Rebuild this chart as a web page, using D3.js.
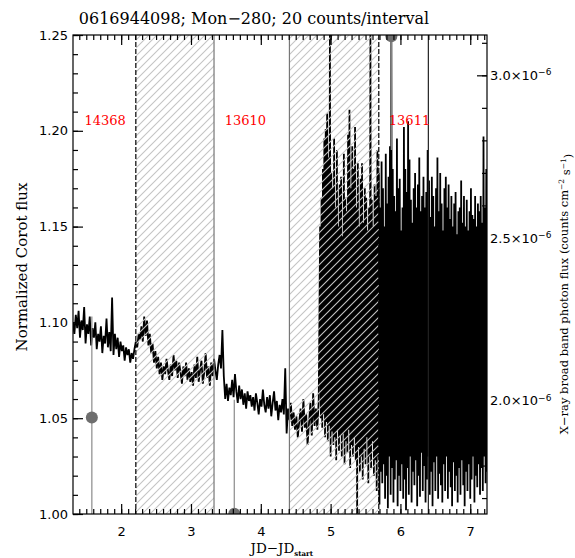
<!DOCTYPE html>
<html>
<head>
<meta charset="utf-8">
<script src="https://cdn.jsdelivr.net/npm/d3@7"></script>
<style>
  body { margin: 0; background: #fff; }
  svg text { font-family: "DejaVu Sans", sans-serif; }
</style>
</head>
<body>
<div id="chart"></div>
<script>
// Corot light curve with X-ray points, 0616944098 Mon-280

// Corot flux, cadence 0.02 d starting at 1.31 (quiet part)
const quietStart = 1.31;
const quietStep = 0.02;
const quietFlux = [
  1.100, 1.094, 1.104, 1.097, 1.106, 1.092, 1.101, 1.096, 1.108, 1.089,
  1.099, 1.094, 1.103, 1.088, 1.097, 1.092, 1.100, 1.086, 1.094, 1.090,
  1.098, 1.084, 1.093, 1.089, 1.102, 1.087, 1.095, 1.085, 1.113, 1.083,
  1.094, 1.086, 1.092, 1.082, 1.090, 1.085, 1.088, 1.080, 1.087, 1.083,
  1.086, 1.079, 1.084, 1.081, 1.086, 1.090, 1.087, 1.094, 1.091, 1.098,
  1.090, 1.103, 1.093, 1.101, 1.088, 1.094, 1.084, 1.089, 1.079, 1.085,
  1.076, 1.082, 1.073, 1.079, 1.070, 1.077, 1.073, 1.081, 1.075, 1.070,
  1.078, 1.072, 1.083, 1.075, 1.080, 1.071, 1.079, 1.074, 1.068, 1.077,
  1.072, 1.079, 1.070, 1.076, 1.069, 1.074, 1.067, 1.078, 1.071, 1.082,
  1.069, 1.075, 1.080, 1.068, 1.074, 1.084, 1.071, 1.077, 1.067, 1.079,
  1.072, 1.081, 1.075, 1.070, 1.078, 1.083, 1.076, 1.096, 1.072, 1.060,
  1.068, 1.059, 1.066, 1.062, 1.070, 1.061, 1.073, 1.064, 1.058, 1.067,
  1.060, 1.065, 1.057, 1.063, 1.055, 1.064, 1.059, 1.062, 1.056, 1.061,
  1.054, 1.063, 1.058, 1.052, 1.060, 1.056, 1.065, 1.057, 1.053, 1.061,
  1.055, 1.062, 1.051, 1.058, 1.064, 1.054, 1.059, 1.049, 1.057, 1.053,
  1.060, 1.052, 1.076, 1.042, 1.055, 1.049, 1.058, 1.046, 1.053, 1.044,
  1.051, 1.040, 1.048, 1.055, 1.043, 1.060, 1.045, 1.052, 1.036, 1.047,
  1.058, 1.041, 1.063, 1.046, 1.055, 1.044, 1.060
];

// noisy part, cadence 0.01 d starting at 4.85
const activeStart = 4.85;
const activeStep = 0.01;
const activeFlux = [
  1.150, 1.050, 1.165, 1.045, 1.180, 1.052, 1.196, 1.040, 1.201, 1.048,
  1.209, 1.038, 1.186, 1.046, 1.250, 1.030, 1.178, 1.043, 1.170, 1.036,
  1.196, 1.040, 1.160, 1.028, 1.190, 1.044, 1.150, 1.033, 1.172, 1.041,
  1.176, 1.030, 1.145, 1.042, 1.188, 1.026, 1.165, 1.038, 1.158, 1.032,
  1.198, 1.044, 1.211, 1.024, 1.170, 1.036, 1.192, 1.030, 1.180, 1.040,
  1.202, 1.028, 1.160, 1.000, 1.183, 1.035, 1.150, 1.022, 1.175, 1.030,
  1.183, 1.018, 1.152, 1.034, 1.170, 1.026, 1.165, 1.040, 1.148, 1.016,
  1.160, 1.030, 1.250, 1.024, 1.164, 1.038, 1.150, 1.020, 1.172, 1.028,
  1.166, 1.012, 1.190, 1.030, 1.178, 1.005, 1.160, 1.022, 1.184, 1.016,
  1.170, 1.026, 1.150, 1.008, 1.188, 1.020, 1.162, 1.003, 1.176, 1.030,
  1.192, 1.010, 1.250, 1.024, 1.180, 1.006, 1.166, 1.018, 1.158, 1.028,
  1.196, 1.004, 1.170, 1.020, 1.175, 1.012, 1.148, 1.026, 1.160, 1.008,
  1.202, 1.018, 1.180, 1.002, 1.168, 1.024, 1.205, 1.010, 1.185, 1.030,
  1.164, 1.006, 1.152, 1.022, 1.170, 1.015, 1.178, 1.028, 1.160, 1.004,
  1.172, 1.020, 1.186, 1.009, 1.158, 1.032, 1.166, 1.012, 1.176, 1.025,
  1.160, 1.006, 1.168, 1.018, 1.190, 1.030, 1.174, 1.010, 1.155, 1.022,
  1.176, 1.004, 1.166, 1.027, 1.150, 1.012, 1.170, 1.030, 1.186, 1.008,
  1.158, 1.021, 1.178, 1.015, 1.162, 1.006, 1.148, 1.026, 1.170, 1.012,
  1.176, 1.030, 1.160, 1.008, 1.172, 1.022, 1.154, 1.014, 1.166, 1.004,
  1.150, 1.027, 1.162, 1.012, 1.168, 1.020, 1.146, 1.006, 1.158, 1.024,
  1.160, 1.010, 1.174, 1.028, 1.152, 1.015, 1.166, 1.004, 1.150, 1.022,
  1.164, 1.012, 1.148, 1.026, 1.158, 1.008, 1.170, 1.018, 1.156, 1.030,
  1.154, 1.006, 1.166, 1.020, 1.150, 1.014, 1.162, 1.026, 1.158, 1.010,
  1.166, 1.024, 1.152, 1.012, 1.197, 1.030, 1.160, 1.016, 1.180, 1.022
];

// X-ray points (right axis)
const xrayJD = [1.58, 3.62, 5.87];
const xrayFlux = [1.948e-6, 1.652e-6, 3.12e-6];
const xrayErr = [0.31e-6, 0.35e-6, 0.35e-6];

// hatched intervals and boundary lines
const hatchFrom = [2.21, 4.41];
const hatchTo = [3.33, 5.69];
const dashedLines = [2.21, 5.69];
const grayLines = [3.33, 4.41];
const solidLines = [6.40];

// ObsID labels
const obsLabels = ["14368", "13610", "13611"];
const obsLabelX = [1.77, 3.78, 6.13];
const obsLabelY = 1.203;

const xMajor = [2, 3, 4, 5, 6, 7];
const yMajor = [1.00, 1.05, 1.10, 1.15, 1.20, 1.25];
const y2Major = [2.0e-6, 2.5e-6, 3.0e-6];

const W = 575, H = 558;
const pL = 73, pR = 487, pT = 35, pB = 514;
const serif = "'DejaVu Serif', serif";

const x = d3.scaleLinear().domain([1.31, 7.24]).range([pL, pR]);
const y = d3.scaleLinear().domain([1.0, 1.25]).range([pB, pT]);
const y2 = d3.scaleLinear().domain([1.651e-6, 3.124e-6]).range([pB, pT]);

const svg = d3.select("#chart").append("svg")
  .attr("width", W).attr("height", H);

const defs = svg.append("defs");
defs.append("clipPath").attr("id", "plotClip")
  .append("rect").attr("x", pL).attr("y", pT)
  .attr("width", pR - pL).attr("height", pB - pT);
defs.append("pattern").attr("id", "hatch")
  .attr("patternUnits", "userSpaceOnUse").attr("width", 8).attr("height", 8)
  .append("path")
  .attr("d", "M-2,2 L2,-2 M0,8 L8,0 M6,10 L10,6")
  .attr("stroke", "#c4c4c4").attr("stroke-width", 1.1);

const plot = svg.append("g").attr("clip-path", "url(#plotClip)");

// light curve
const quiet = quietFlux.map((v, i) => [quietStart + i * quietStep, v]);
const active = activeFlux.map((v, i) => [activeStart + i * activeStep, v]);
const pts = quiet.concat(active);
const line = d3.line().x(d => x(d[0])).y(d => y(d[1]));
plot.append("path").datum(pts)
  .attr("d", line).attr("fill", "none")
  .attr("stroke", "#000").attr("stroke-width", 1.8)
  .attr("stroke-linejoin", "miter");

// x-ray error bars and points
xrayJD.forEach((jd, i) => {
  plot.append("line")
    .attr("x1", x(jd)).attr("x2", x(jd))
    .attr("y1", y2(xrayFlux[i] - xrayErr[i])).attr("y2", y2(xrayFlux[i] + xrayErr[i]))
    .attr("stroke", "#8a8a8a").attr("stroke-width", 1.2);
  plot.append("circle")
    .attr("cx", x(jd)).attr("cy", y2(xrayFlux[i])).attr("r", 6)
    .attr("fill", "#6e6e6e");
});

// hatched regions on top
hatchFrom.forEach((a, i) => {
  plot.append("rect")
    .attr("x", x(a)).attr("y", pT)
    .attr("width", x(hatchTo[i]) - x(a)).attr("height", pB - pT)
    .attr("fill", "url(#hatch)");
});

grayLines.forEach(v => {
  plot.append("line").attr("x1", x(v)).attr("x2", x(v))
    .attr("y1", pT).attr("y2", pB)
    .attr("stroke", "#777").attr("stroke-width", 1.2);
});
dashedLines.forEach(v => {
  plot.append("line").attr("x1", x(v)).attr("x2", x(v))
    .attr("y1", pT).attr("y2", pB)
    .attr("stroke", "#000").attr("stroke-width", 1.2)
    .attr("stroke-dasharray", "5,2");
});
solidLines.forEach(v => {
  plot.append("line").attr("x1", x(v)).attr("x2", x(v))
    .attr("y1", pT).attr("y2", pB)
    .attr("stroke", "#222").attr("stroke-width", 1.2);
});

// obs labels
obsLabels.forEach((t, i) => {
  svg.append("text")
    .attr("x", x(obsLabelX[i])).attr("y", y(obsLabelY))
    .attr("text-anchor", "middle")
    .attr("fill", "#ff0000").style("font-family", serif).style("font-size", "13px")
    .text(t);
});

// axes, ticks pointing inward (IDL style)
const xMinor = d3.range(14, 73).map(d => d / 10).filter(d => d >= 1.31 && d <= 7.24);
const yMinor = d3.range(100, 126).map(d => d / 100);
const y2Minor = d3.range(17, 32).map(d => d / 10 * 1e-6);

function styleAxis(g) {
  g.select("path.domain").remove();
  g.selectAll(".tick line")
    .attr("stroke", "#000").attr("stroke-width", 1.2);
  g.selectAll(".tick text").attr("fill", "#000").style("font-size", "13px");
}

svg.append("g").attr("transform", `translate(0,${pB})`)
  .call(d3.axisBottom(x).tickValues(xMinor).tickSize(-5).tickFormat(() => "")).call(styleAxis);
svg.append("g").attr("transform", `translate(0,${pB})`)
  .call(d3.axisBottom(x).tickValues(xMajor).tickSize(-10).tickPadding(13).tickFormat(d3.format("d"))).call(styleAxis);
svg.append("g").attr("transform", `translate(0,${pT})`)
  .call(d3.axisTop(x).tickValues(xMinor).tickSize(-5).tickFormat(() => "")).call(styleAxis);
svg.append("g").attr("transform", `translate(0,${pT})`)
  .call(d3.axisTop(x).tickValues(xMajor).tickSize(-10).tickFormat(() => "")).call(styleAxis);

svg.append("g").attr("transform", `translate(${pL},0)`)
  .call(d3.axisLeft(y).tickValues(yMinor).tickSize(-5).tickFormat(() => "")).call(styleAxis);
svg.append("g").attr("transform", `translate(${pL},0)`)
  .call(d3.axisLeft(y).tickValues(yMajor).tickSize(-10).tickPadding(5).tickFormat(d3.format(".2f"))).call(styleAxis);

svg.append("g").attr("transform", `translate(${pR},0)`)
  .call(d3.axisRight(y2).tickValues(y2Minor).tickSize(-5).tickFormat(() => "")).call(styleAxis);
const rAxis = svg.append("g").attr("transform", `translate(${pR},0)`)
  .call(d3.axisRight(y2).tickValues(y2Major).tickSize(-10).tickPadding(3).tickFormat(d => (d * 1e6).toFixed(1)))
  .call(styleAxis);
rAxis.selectAll(".tick text").each(function () {
  const t = d3.select(this);
  const base = t.text();
  t.text(null);
  t.append("tspan").text(base + "×10");
  t.append("tspan").attr("dy", "-0.5em").style("font-size", "9px").text("−6");
});

// frame
svg.append("rect").attr("x", pL).attr("y", pT)
  .attr("width", pR - pL).attr("height", pB - pT)
  .attr("fill", "none").attr("stroke", "#000").attr("stroke-width", 1.2);

// titles
svg.append("text").attr("x", 254).attr("y", 24)
  .attr("text-anchor", "middle")
  .style("font-family", serif).style("font-size", "16px")
  .text("0616944098; Mon−280; 20 counts/interval");

svg.append("text")
  .attr("transform", "translate(27,267) rotate(-90)")
  .attr("text-anchor", "middle").style("font-family", serif).style("font-size", "15px")
  .text("Normalized Corot flux");

const rt = svg.append("text")
  .attr("transform", "translate(568,294) rotate(-90)")
  .attr("text-anchor", "middle").style("font-family", serif).style("font-size", "11.5px");
rt.append("tspan").text("X−ray broad band photon flux (counts cm");
rt.append("tspan").attr("dy", "-0.5em").style("font-size", "7.5px").text("−2");
rt.append("tspan").attr("dy", "0.5em").text(" s");
rt.append("tspan").attr("dy", "-0.5em").style("font-size", "7.5px").text("−1");
rt.append("tspan").attr("dy", "0.5em").text(")");

const xt = svg.append("text").attr("x", x(4.3)).attr("y", 553)
  .attr("text-anchor", "middle").style("font-family", serif).style("font-size", "13.5px");
xt.append("tspan").text("JD−JD");
xt.append("tspan").attr("dy", "3").style("font-size", "7px").style("font-weight", "bold").text("start");
</script>
</body>
</html>
